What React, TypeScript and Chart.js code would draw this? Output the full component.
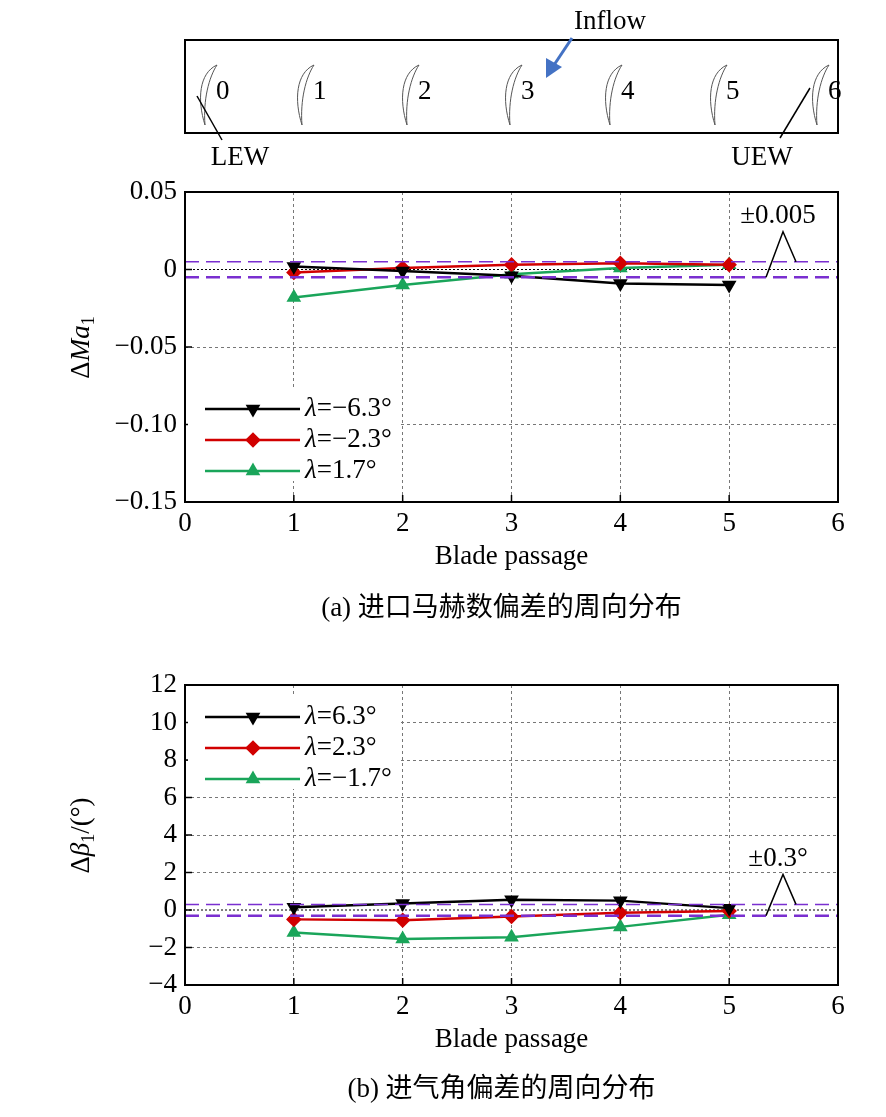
import React, { useEffect, useRef } from "react";
import { Chart, registerables } from "chart.js";
import { drawPoint } from "chart.js/helpers";
Chart.register(...registerables);

const passages = [1, 2, 3, 4, 5];
const maNeg63 = [0.002, -0.001, -0.004, -0.009, -0.010];
const maNeg23 = [-0.002, 0.001, 0.003, 0.004, 0.003];
const maPos17 = [-0.018, -0.010, -0.003, 0.001, 0.003];
const maTol = 0.005;
const maTicks = [-0.15, -0.1, -0.05, 0, 0.05];
const maTickLabels = ["\u22120.15", "\u22120.10", "\u22120.05", "0", "0.05"];

const b63 = [0.15, 0.35, 0.55, 0.5, 0.1];
const b23 = [-0.5, -0.55, -0.35, -0.15, -0.05];
const bNeg17 = [-1.2, -1.55, -1.45, -0.9, -0.25];
const bTol = 0.3;
const bTicks = [-4, -2, 0, 2, 4, 6, 8, 10, 12];

const legendA = ["=\u22126.3\u00b0", "=\u22122.3\u00b0", "=1.7\u00b0"];
const legendB = ["=6.3\u00b0", "=2.3\u00b0", "=\u22121.7\u00b0"];
const COLORS = ["#000000", "#d10000", "#1aa55a"];
const STYLES = ["triangle", "rectRot", "triangle"];
const ROT = [180, 0, 0];
const PURPLE = "#7a2fd0";
const FONT = "'Liberation Serif', 'Times New Roman', serif";
const CJK = "'Liberation Serif', 'Noto Sans CJK SC', serif";
const FS = 27;

function series(vals: number[], i: number) {
  return {
    data: passages.map((p, k) => ({ x: p, y: vals[k] })),
    borderColor: COLORS[i], backgroundColor: COLORS[i], borderWidth: 2.5,
    pointStyle: STYLES[i], pointRotation: ROT[i], pointRadius: 6, tension: 0,
  };
}
function hline(y: number, w: number) {
  return { data: [{ x: 0, y }, { x: 6, y }], borderColor: PURPLE, borderWidth: w, borderDash: [14, 7], pointRadius: 0 };
}

function makeConfig(opts: any) {
  const { s, tol, tickVals, tickLabels, min, max, padBottom, legend, legendY, ylabel, tolLabel, caption, captionY, extra } = opts;
  const plugin = {
    id: "deco",
    beforeDatasetsDraw(chart: any) {
      const ctx = chart.ctx; const xs = chart.scales.x; const ys = chart.scales.y;
      ctx.save();
      ctx.strokeStyle = "#000"; ctx.lineWidth = 1; ctx.setLineDash([2, 2]);
      ctx.beginPath(); ctx.moveTo(xs.left, ys.getPixelForValue(0)); ctx.lineTo(xs.right, ys.getPixelForValue(0)); ctx.stroke();
      ctx.restore();
    },
    afterDraw(chart: any) {
      const ctx = chart.ctx; const xs = chart.scales.x; const ys = chart.scales.y;
      const a = chart.chartArea;
      ctx.save();
      ctx.setLineDash([]);
      ctx.strokeStyle = "#000"; ctx.lineWidth = 2;
      ctx.strokeRect(a.left, a.top, a.right - a.left, a.bottom - a.top);
      ctx.lineWidth = 1.5;
      for (const v of tickVals) { const y = ys.getPixelForValue(v); ctx.beginPath(); ctx.moveTo(a.left, y); ctx.lineTo(a.left + 7, y); ctx.stroke(); }
      for (let v = 0; v <= 6; v++) { const x = xs.getPixelForValue(v); ctx.beginPath(); ctx.moveTo(x, a.bottom); ctx.lineTo(x, a.bottom - 7); ctx.stroke(); }
      ctx.fillStyle = "#fff";
      ctx.fillRect(a.left + 3, legendY - 20, 210, 92);
      legend.forEach((t: string, i: number) => {
        const y = legendY + i * 31;
        ctx.strokeStyle = COLORS[i]; ctx.lineWidth = 2.5;
        ctx.beginPath(); ctx.moveTo(a.left + 20, y); ctx.lineTo(a.left + 115, y); ctx.stroke();
        ctx.fillStyle = COLORS[i];
        drawPoint(ctx, { pointStyle: STYLES[i], rotation: ROT[i], radius: 6, borderWidth: 1 } as any, a.left + 68, y);
        ctx.fillStyle = "#000"; ctx.textBaseline = "middle"; ctx.textAlign = "left";
        ctx.font = `italic ${FS}px ${FONT}`; ctx.fillText("\u03bb", a.left + 120, y);
        const w = ctx.measureText("\u03bb").width;
        ctx.font = `${FS}px ${FONT}`; ctx.fillText(t, a.left + 120 + w, y);
      });
      const yt = ys.getPixelForValue(tol), yb = ys.getPixelForValue(-tol);
      ctx.strokeStyle = "#000"; ctx.lineWidth = 1.5;
      const px = a.right - 55, apex = yt - 30;
      ctx.beginPath(); ctx.moveTo(px - 17, yb); ctx.lineTo(px, apex); ctx.lineTo(px + 13, yt); ctx.stroke();
      ctx.fillStyle = "#000";
      ctx.font = `${FS}px ${FONT}`; ctx.textAlign = "center"; ctx.textBaseline = "bottom";
      ctx.fillText(tolLabel, px - 5, apex - 2);
      ctx.save();
      ctx.translate(a.left - 103, (a.top + a.bottom) / 2); ctx.rotate(-Math.PI / 2);
      ylabel(ctx);
      ctx.restore();
      ctx.fillStyle = "#000";
      ctx.font = `${FS}px ${CJK}`; ctx.textAlign = "center"; ctx.textBaseline = "middle";
      ctx.fillText(caption, (a.left + a.right) / 2 - 10, captionY);
      if (extra) extra(ctx, chart);
      ctx.restore();
    },
  };
  return {
    type: "line",
    data: { datasets: [hline(tol, 1.5), hline(-tol, 2.5), ...s] },
    plugins: [plugin],
    options: {
      animation: false, responsive: false, maintainAspectRatio: false,
      layout: { padding: { top: opts.padTop, right: 48, bottom: padBottom, left: 0 } },
      plugins: { legend: { display: false }, tooltip: { enabled: false } },
      scales: {
        x: {
          type: "linear", min: 0, max: 6,
          afterBuildTicks: (sc: any) => { sc.ticks = [0, 1, 2, 3, 4, 5, 6].map(v => ({ value: v })); },
          afterFit: (sc: any) => { sc.height = 75; },
          grid: { color: (c: any) => (c.tick && c.tick.value > 0 && c.tick.value < 6 ? "#777" : "transparent"), drawTicks: false },
          border: { display: false, dash: [3, 3] },
          ticks: { color: "#000", font: { family: FONT, size: FS }, padding: 6 },
          title: { display: true, text: "Blade passage", color: "#000", font: { family: FONT, size: FS }, padding: { top: 4 } },
        },
        y: {
          type: "linear", min, max,
          afterBuildTicks: (sc: any) => { sc.ticks = tickVals.map((v: number) => ({ value: v })); },
          afterFit: (sc: any) => { sc.width = 185; },
          grid: { color: (c: any) => (c.tick && c.tick.value > min && c.tick.value < max && c.tick.value !== 0 ? "#777" : "transparent"), drawTicks: false },
          border: { display: false, dash: [3, 3] },
          ticks: { color: "#000", font: { family: FONT, size: FS }, padding: 8, callback: (v: number) => tickLabels[tickVals.indexOf(v)] ?? "" },
        },
      },
    },
  };
}

function blade(ctx: CanvasRenderingContext2D, x: number, y: number) {
  ctx.beginPath();
  ctx.moveTo(x + 14, y - 30);
  ctx.bezierCurveTo(x - 4, y - 22, x - 6, y + 5, x + 2, y + 30);
  ctx.bezierCurveTo(x + 0, y + 5, x + 6, y - 18, x + 14, y - 30);
  ctx.stroke();
}

function schematic(ctx: CanvasRenderingContext2D) {
  ctx.save();
  ctx.strokeStyle = "#000"; ctx.lineWidth = 2; ctx.setLineDash([]);
  ctx.strokeRect(185, 40, 653, 93);
  ctx.lineWidth = 1; ctx.strokeStyle = "#555";
  const bx = [203, 300, 405, 508, 608, 713, 815];
  bx.forEach((x, i) => {
    blade(ctx, x, 95);
    ctx.fillStyle = "#000"; ctx.font = `${FS}px ${FONT}`; ctx.textAlign = "left"; ctx.textBaseline = "middle";
    ctx.fillText(String(i), x + 13, 92);
  });
  ctx.strokeStyle = "#000"; ctx.lineWidth = 1.5;
  ctx.beginPath(); ctx.moveTo(197, 96); ctx.lineTo(222, 140); ctx.stroke();
  ctx.beginPath(); ctx.moveTo(810, 88); ctx.lineTo(780, 138); ctx.stroke();
  ctx.font = `${FS}px ${FONT}`; ctx.textAlign = "center"; ctx.textBaseline = "middle";
  ctx.fillText("LEW", 240, 158); ctx.fillText("UEW", 762, 158);
  ctx.fillText("Inflow", 610, 22);
  ctx.strokeStyle = "#4472c4"; ctx.fillStyle = "#4472c4"; ctx.lineWidth = 3;
  ctx.beginPath(); ctx.moveTo(572, 38); ctx.lineTo(554, 65); ctx.stroke();
  ctx.beginPath(); ctx.moveTo(546, 78); ctx.lineTo(546, 58); ctx.lineTo(562, 67); ctx.closePath(); ctx.fill();
  ctx.restore();
}

function ChartBox({ cfg, top, height }: any) {
  const ref = useRef<HTMLCanvasElement>(null);
  useEffect(() => {
    const c = new Chart(ref.current!, cfg);
    return () => c.destroy();
  }, []);
  return <canvas ref={ref} width={886} height={height} style={{ position: "absolute", left: 0, top, width: 886, height }} />;
}

export default function App() {
  const cfgA = makeConfig({
    s: [series(maNeg63, 0), series(maNeg23, 1), series(maPos17, 2)],
    tol: maTol, tickVals: maTicks, tickLabels: maTickLabels, min: -0.15, max: 0.05,
    padTop: 192, padBottom: 640 - 502 - 75, legend: legendA, legendY: 409,
    ylabel: (ctx: any) => {
      ctx.fillStyle = "#000"; ctx.textBaseline = "middle"; ctx.textAlign = "left";
      ctx.font = `${FS}px ${FONT}`; const w1 = ctx.measureText("\u0394").width;
      ctx.font = `italic ${FS}px ${FONT}`; const w2 = ctx.measureText("Ma").width;
      const x0 = -(w1 + w2 + 10) / 2;
      ctx.font = `${FS}px ${FONT}`; ctx.fillText("\u0394", x0, 0);
      ctx.font = `italic ${FS}px ${FONT}`; ctx.fillText("Ma", x0 + w1, 0);
      ctx.font = `18px ${FONT}`; ctx.fillText("1", x0 + w1 + w2, 7);
    },
    tolLabel: "\u00b10.005", caption: "(a) 进口马赫数偏差的周向分布", captionY: 609,
    extra: schematic,
  });
  const cfgB = makeConfig({
    s: [series(b63, 0), series(b23, 1), series(bNeg17, 2)],
    tol: bTol, tickVals: bTicks, tickLabels: bTicks.map(v => (v < 0 ? "\u2212" + -v : String(v))), min: -4, max: 12,
    padTop: 45, padBottom: 477 - 345 - 75, legend: legendB, legendY: 717 - 640,
    ylabel: (ctx: any) => {
      ctx.fillStyle = "#000"; ctx.textBaseline = "middle"; ctx.textAlign = "left";
      ctx.font = `${FS}px ${FONT}`; const w1 = ctx.measureText("\u0394").width;
      ctx.font = `italic ${FS}px ${FONT}`; const w2 = ctx.measureText("\u03b2").width;
      ctx.font = `${FS}px ${FONT}`; const w3 = ctx.measureText("/(\u00b0)").width;
      const x0 = -(w1 + w2 + w3 + 10) / 2;
      ctx.fillText("\u0394", x0, 0);
      ctx.font = `italic ${FS}px ${FONT}`; ctx.fillText("\u03b2", x0 + w1, 0);
      ctx.font = `18px ${FONT}`; ctx.fillText("1", x0 + w1 + w2, 7);
      ctx.font = `${FS}px ${FONT}`; ctx.fillText("/(\u00b0)", x0 + w1 + w2 + 9, 0);
    },
    tolLabel: "\u00b10.3\u00b0", caption: "(b) 进气角偏差的周向分布", captionY: 1090 - 640,
  });
  return (
    <div style={{ position: "relative", width: 886, height: 1117, margin: -8, background: "#fff" }}>
      <ChartBox cfg={cfgA} top={0} height={640} />
      <ChartBox cfg={cfgB} top={640} height={477} />
    </div>
  );
}
